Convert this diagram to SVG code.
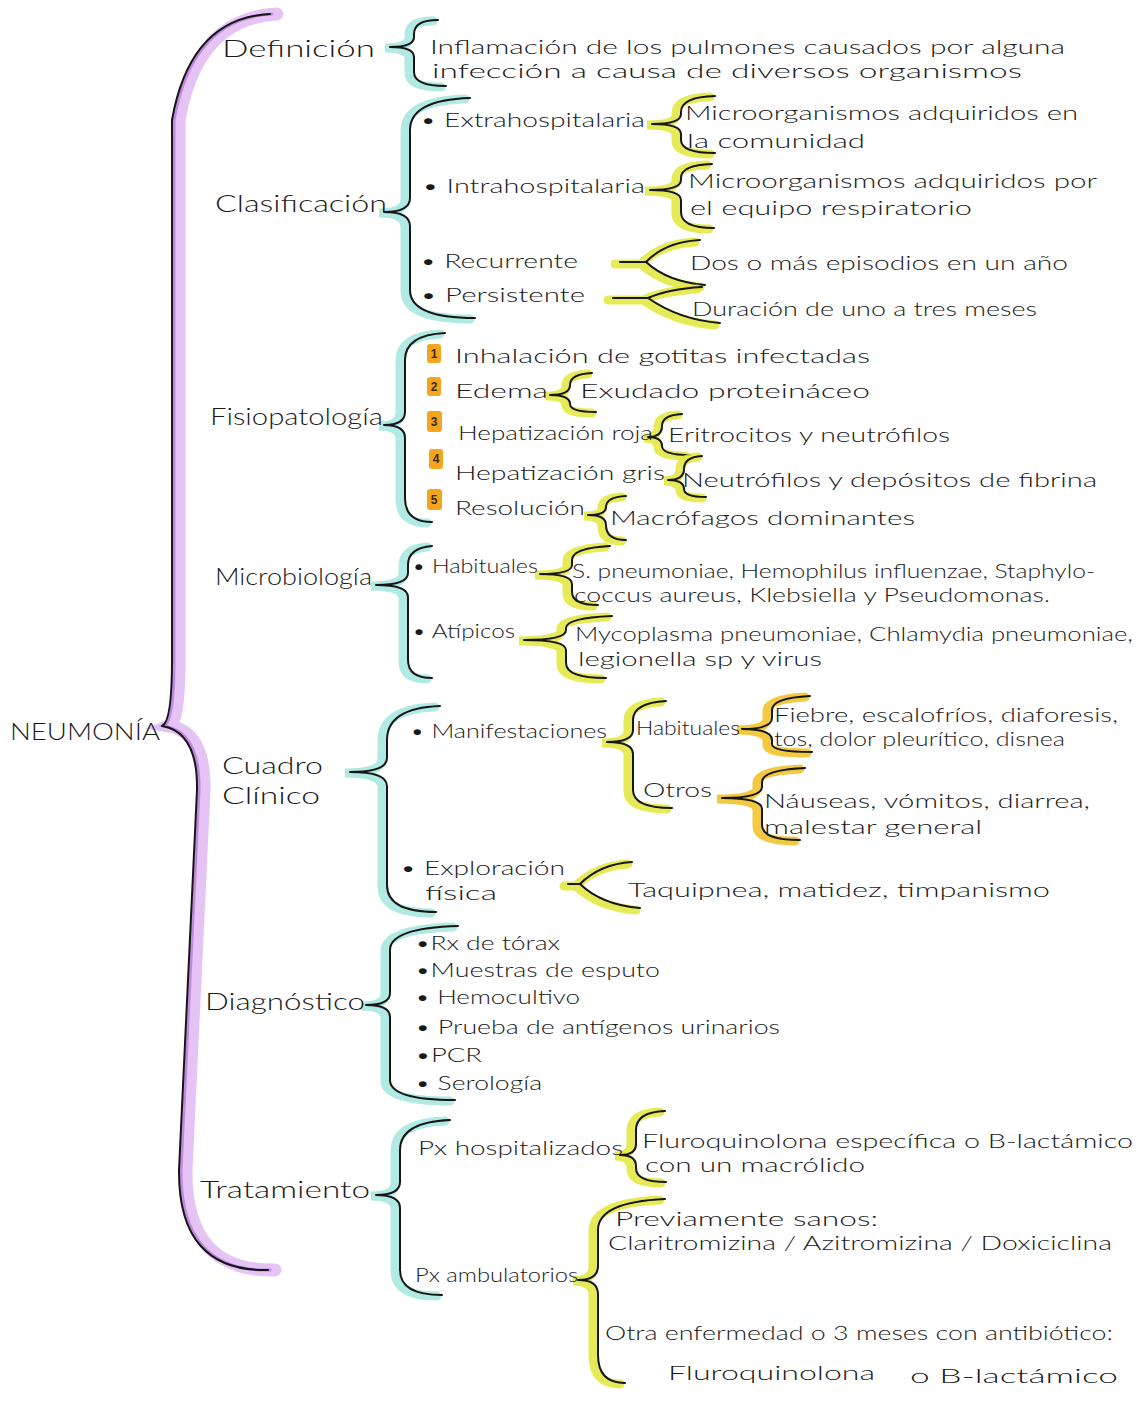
<svg xmlns="http://www.w3.org/2000/svg" xmlns:xlink="http://www.w3.org/1999/xlink" width="1141" height="1401" viewBox="0 0 1141 1401">
<style>
text{font-family:Lato,"Liberation Sans",sans-serif;font-weight:300;fill:#1a1a1a}
.cat{font-size:24px}
.t{font-size:20px}
.s{font-size:19px}
.ink{fill:none;stroke:#161616;stroke-width:2;stroke-linecap:round;stroke-linejoin:round}
.hlT{fill:none;stroke:#9ee3dc;stroke-width:9;stroke-linecap:round;opacity:.8}
.hlY{fill:none;stroke:#e2e63a;stroke-width:9;stroke-linecap:round;opacity:.85}
.hlO{fill:none;stroke:#f0c020;stroke-width:9;stroke-linecap:round;opacity:.85}
.hlP{fill:none;stroke:#e2b8f3;stroke-width:13;stroke-linecap:round;opacity:.85}
.hlP2{fill:none;stroke:#b47ad8;stroke-width:3;stroke-linecap:round;opacity:.8}
.num{fill:#f5a41e}
.nt{font-size:12px;font-weight:700;font-family:"Liberation Sans",sans-serif;fill:#3a2a00}
</style>
<defs>
<path id="bMain" d="M270 14 Q190 18 172 120 L172 660 Q172 722 162 726 Q198 732 197 790 L179 1170 Q178 1272 268 1270"/>
<path id="b1" d="M438 20 Q414 20 414 34 L414 37 Q414 47 390 47 Q414 47 414 57 L414 72 Q414 86 446 86"/>
<path id="b2" d="M470 98 Q410 100 410 130 L410 198 Q410 212 384 212 Q410 212 410 226 L410 290 Q410 318 475 318"/>
<path id="b3" d="M445 333 Q405 335 405 360 L405 412 Q405 425 384 425 Q405 425 405 438 L405 498 Q405 522 432 522"/>
<path id="b4" d="M432 546 Q408 548 408 565 L408 573 Q408 585 376 585 Q408 585 408 597 L408 660 Q408 678 432 678"/>
<path id="b5" d="M440 706 Q387 708 387 740 L387 758 Q387 772 350 772 Q387 772 387 786 L387 885 Q387 912 436 912"/>
<path id="b6" d="M458 926 Q390 928 390 950 L390 993 Q390 1005 366 1005 Q390 1005 390 1017 L390 1080 Q390 1100 455 1100"/>
<path id="b7" d="M450 1120 Q400 1122 400 1150 L400 1182 Q400 1195 376 1195 Q400 1195 400 1208 L400 1270 Q400 1295 442 1295"/>
<path id="y1" d="M715 96 Q681 97 681 112 L681 114 Q681 124 652 124 Q681 124 681 134 L681 140 Q681 153 715 153"/>
<path id="y2" d="M712 164 Q681 165 681 178 L681 180 Q681 190 650 190 Q681 190 681 200 L681 212 Q681 228 714 228"/>
<path id="y3" d="M620 262 L646 262 M700 240 Q665 242 646 262 Q668 282 705 285"/>
<path id="y4" d="M613 298 L648 298 M702 287 Q668 289 648 298 Q680 320 720 323"/>
<path id="y5" d="M592 373 Q570 374 570 385 Q570 395 550 395 Q570 395 570 404 Q570 412 596 412"/>
<path id="y6" d="M682 414 Q662 415 662 426 Q662 437 648 437 Q662 437 662 446 Q662 455 690 455"/>
<path id="y7" d="M702 456 Q684 457 684 469 Q684 480 668 480 Q684 480 684 489 Q684 497 706 497"/>
<path id="y8" d="M626 496 Q606 497 606 507 Q606 515 588 515 Q606 515 606 525 Q606 540 626 540"/>
<path id="y9" d="M610 546 Q572 548 572 560 L572 565 Q572 574 540 574 Q572 574 572 584 L572 592 Q572 605 598 605"/>
<path id="y10" d="M612 616 Q566 618 566 628 L566 630 Q566 640 524 640 Q566 640 566 650 L566 663 Q566 678 606 678"/>
<path id="y11" d="M666 701 Q633 703 633 720 L633 730 Q633 742 607 742 Q633 742 633 754 L633 790 Q633 808 672 808"/>
<path id="y12" d="M810 696 Q772 698 772 710 L772 718 Q772 729 742 729 Q772 729 772 740 L772 744 Q772 752 812 752"/>
<path id="y13" d="M805 768 Q762 770 762 782 L762 787 Q762 798 722 798 Q762 798 762 809 L762 825 Q762 840 800 840"/>
<path id="y14" d="M568 884 L580 884 M632 862 Q600 864 580 884 Q602 905 640 908"/>
<path id="y15" d="M665 1111 Q636 1112 636 1130 L636 1144 Q636 1155 620 1155 Q636 1155 636 1166 L636 1168 Q636 1182 666 1182"/>
<path id="y16" d="M665 1199 Q598 1202 598 1230 L598 1266 Q598 1280 578 1280 Q598 1280 598 1294 L598 1355 Q598 1383 625 1383"/>
</defs>

<g id="connectors">
<use href="#bMain" class="hlP" transform="translate(7,0)"/>
<use href="#bMain" class="hlP2" transform="translate(2,0)"/>
<use href="#bMain" class="ink"/>
<use href="#b1" class="hlT" transform="translate(-5,1)"/><use href="#b1" class="ink"/>
<use href="#b2" class="hlT" transform="translate(-5,1)"/><use href="#b2" class="ink"/>
<use href="#b3" class="hlT" transform="translate(-5,1)"/><use href="#b3" class="ink"/>
<use href="#b4" class="hlT" transform="translate(-5,1)"/><use href="#b4" class="ink"/>
<use href="#b5" class="hlT" transform="translate(-5,1)"/><use href="#b5" class="ink"/>
<use href="#b6" class="hlT" transform="translate(-5,1)"/><use href="#b6" class="ink"/>
<use href="#b7" class="hlT" transform="translate(-5,1)"/><use href="#b7" class="ink"/>
<use href="#y1" class="hlY" transform="translate(-5,1)"/><use href="#y1" class="ink"/>
<use href="#y2" class="hlY" transform="translate(-5,1)"/><use href="#y2" class="ink"/>
<use href="#y3" class="hlY" transform="translate(-5,2)"/><use href="#y3" class="ink"/>
<use href="#y4" class="hlY" transform="translate(-5,2)"/><use href="#y4" class="ink"/>
<use href="#y5" class="hlY" transform="translate(-4,1)"/><use href="#y5" class="ink"/>
<use href="#y6" class="hlY" transform="translate(-4,1)"/><use href="#y6" class="ink"/>
<use href="#y7" class="hlY" transform="translate(-4,1)"/><use href="#y7" class="ink"/>
<use href="#y8" class="hlY" transform="translate(-4,1)"/><use href="#y8" class="ink"/>
<use href="#y9" class="hlY" transform="translate(-5,1)"/><use href="#y9" class="ink"/>
<use href="#y10" class="hlY" transform="translate(-5,1)"/><use href="#y10" class="ink"/>
<use href="#y11" class="hlY" transform="translate(-5,1)"/><use href="#y11" class="ink"/>
<use href="#y12" class="hlO" transform="translate(-5,1)"/><use href="#y12" class="ink"/>
<use href="#y13" class="hlO" transform="translate(-5,1)"/><use href="#y13" class="ink"/>
<use href="#y14" class="hlY" transform="translate(-4,2)"/><use href="#y14" class="ink"/>
<use href="#y15" class="hlY" transform="translate(-5,1)"/><use href="#y15" class="ink"/>
<use href="#y16" class="hlY" transform="translate(-5,1)"/><use href="#y16" class="ink"/>
</g>

<g id="root"><text class="cat" x="10" y="740" textLength="150" lengthAdjust="spacingAndGlyphs">NEUMONÍA</text></g>

<g id="definicion">
<text class="cat" x="222" y="57" textLength="153" lengthAdjust="spacingAndGlyphs">Definición</text>
<text class="s" x="430" y="54" textLength="635" lengthAdjust="spacingAndGlyphs">Inflamación de los pulmones causados por alguna</text>
<text class="s" x="432" y="78" textLength="590" lengthAdjust="spacingAndGlyphs">infección a causa de diversos organismos</text>
</g>

<g id="clasificacion">
<text class="cat" x="215" y="212" textLength="172" lengthAdjust="spacingAndGlyphs">Clasificación</text>
<text class="t" x="420" y="127" textLength="225" lengthAdjust="spacingAndGlyphs">• Extrahospitalaria</text>
<text class="t" x="685" y="120" textLength="393" lengthAdjust="spacingAndGlyphs">Microorganismos adquiridos en</text>
<text class="t" x="687" y="148" textLength="178" lengthAdjust="spacingAndGlyphs">la comunidad</text>
<text class="t" x="422" y="193" textLength="223" lengthAdjust="spacingAndGlyphs">• Intrahospitalaria</text>
<text class="t" x="688" y="188" textLength="409" lengthAdjust="spacingAndGlyphs">Microorganismos adquiridos por</text>
<text class="t" x="690" y="215" textLength="282" lengthAdjust="spacingAndGlyphs">el equipo respiratorio</text>
<text class="t" x="420" y="268" textLength="158" lengthAdjust="spacingAndGlyphs">• Recurrente</text>
<text class="t" x="690" y="270" textLength="378" lengthAdjust="spacingAndGlyphs">Dos o más episodios en un año</text>
<text class="t" x="420" y="302" textLength="165" lengthAdjust="spacingAndGlyphs">• Persistente</text>
<text class="t" x="692" y="316" textLength="345" lengthAdjust="spacingAndGlyphs">Duración de uno a tres meses</text>
</g>

<g id="fisiopatologia">
<text class="cat" x="210" y="425" textLength="173" lengthAdjust="spacingAndGlyphs">Fisiopatología</text>
<rect class="num" x="427" y="344" width="14" height="19" rx="3"/><text class="nt" x="434" y="358" text-anchor="middle">1</text>
<rect class="num" x="427" y="377" width="14" height="19" rx="3"/><text class="nt" x="434" y="391" text-anchor="middle">2</text>
<rect class="num" x="427" y="411" width="15" height="21" rx="3"/><text class="nt" x="434" y="426" text-anchor="middle">3</text>
<rect class="num" x="429" y="449" width="14" height="20" rx="3"/><text class="nt" x="436" y="463" text-anchor="middle">4</text>
<rect class="num" x="427" y="489" width="15" height="21" rx="3"/><text class="nt" x="434" y="504" text-anchor="middle">5</text>
<text class="t" x="455" y="363" textLength="415" lengthAdjust="spacingAndGlyphs">Inhalación de gotitas infectadas</text>
<text class="t" x="455" y="398" textLength="93" lengthAdjust="spacingAndGlyphs">Edema</text>
<text class="t" x="580" y="398" textLength="290" lengthAdjust="spacingAndGlyphs">Exudado proteináceo</text>
<text class="t" x="458" y="440" textLength="195" lengthAdjust="spacingAndGlyphs">Hepatización roja</text>
<text class="t" x="668" y="442" textLength="282" lengthAdjust="spacingAndGlyphs">Eritrocitos y neutrófilos</text>
<text class="t" x="455" y="480" textLength="210" lengthAdjust="spacingAndGlyphs">Hepatización gris</text>
<text class="t" x="682" y="487" textLength="415" lengthAdjust="spacingAndGlyphs">Neutrófilos y depósitos de fibrina</text>
<text class="t" x="455" y="515" textLength="130" lengthAdjust="spacingAndGlyphs">Resolución</text>
<text class="t" x="610" y="525" textLength="305" lengthAdjust="spacingAndGlyphs">Macrófagos dominantes</text>
</g>

<g id="microbiologia">
<text class="cat" x="215" y="585" textLength="157" lengthAdjust="spacingAndGlyphs">Microbiología</text>
<text class="s" x="412" y="573" textLength="126" lengthAdjust="spacingAndGlyphs">• Habituales</text>
<text class="s" x="572" y="578" textLength="523" lengthAdjust="spacingAndGlyphs">S. pneumoniae, Hemophilus influenzae, Staphylo-</text>
<text class="s" x="574" y="602" textLength="476" lengthAdjust="spacingAndGlyphs">coccus aureus, Klebsiella y Pseudomonas.</text>
<text class="s" x="412" y="638" textLength="103" lengthAdjust="spacingAndGlyphs">• Atípicos</text>
<text class="s" x="575" y="641" textLength="558" lengthAdjust="spacingAndGlyphs">Mycoplasma pneumoniae, Chlamydia pneumoniae,</text>
<text class="s" x="578" y="666" textLength="244" lengthAdjust="spacingAndGlyphs">legionella sp y virus</text>
</g>

<g id="cuadro-clinico">
<text class="cat" x="222" y="774" textLength="101" lengthAdjust="spacingAndGlyphs">Cuadro</text>
<text class="cat" x="222" y="804" textLength="98" lengthAdjust="spacingAndGlyphs">Clínico</text>
<text class="t" x="410" y="738" textLength="197" lengthAdjust="spacingAndGlyphs">• Manifestaciones</text>
<text class="s" x="636" y="735" textLength="104" lengthAdjust="spacingAndGlyphs">Habituales</text>
<text class="s" x="774" y="722" textLength="344" lengthAdjust="spacingAndGlyphs">Fiebre, escalofríos, diaforesis,</text>
<text class="s" x="774" y="746" textLength="291" lengthAdjust="spacingAndGlyphs">tos, dolor pleurítico, disnea</text>
<text class="t" x="643" y="797" textLength="69" lengthAdjust="spacingAndGlyphs">Otros</text>
<text class="t" x="764" y="808" textLength="326" lengthAdjust="spacingAndGlyphs">Náuseas, vómitos, diarrea,</text>
<text class="t" x="764" y="834" textLength="218" lengthAdjust="spacingAndGlyphs">malestar general</text>
<text class="t" x="400" y="875" textLength="165" lengthAdjust="spacingAndGlyphs">• Exploración</text>
<text class="t" x="425" y="900" textLength="72" lengthAdjust="spacingAndGlyphs">física</text>
<text class="t" x="628" y="897" textLength="422" lengthAdjust="spacingAndGlyphs">Taquipnea, matidez, timpanismo</text>
</g>

<g id="diagnostico">
<text class="cat" x="205" y="1010" textLength="160" lengthAdjust="spacingAndGlyphs">Diagnóstico</text>
<text class="s" x="415" y="950" textLength="145" lengthAdjust="spacingAndGlyphs">•Rx de tórax</text>
<text class="s" x="415" y="977" textLength="245" lengthAdjust="spacingAndGlyphs">•Muestras de esputo</text>
<text class="s" x="415" y="1004" textLength="165" lengthAdjust="spacingAndGlyphs">• Hemocultivo</text>
<text class="s" x="415" y="1034" textLength="365" lengthAdjust="spacingAndGlyphs">• Prueba de antígenos urinarios</text>
<text class="s" x="415" y="1062" textLength="67" lengthAdjust="spacingAndGlyphs">•PCR</text>
<text class="s" x="415" y="1090" textLength="127" lengthAdjust="spacingAndGlyphs">• Serología</text>
</g>

<g id="tratamiento">
<text class="cat" x="200" y="1198" textLength="170" lengthAdjust="spacingAndGlyphs">Tratamiento</text>
<text class="t" x="418" y="1155" textLength="205" lengthAdjust="spacingAndGlyphs">Px hospitalizados</text>
<text class="s" x="642" y="1148" textLength="491" lengthAdjust="spacingAndGlyphs">Fluroquinolona específica o B-lactámico</text>
<text class="s" x="645" y="1172" textLength="220" lengthAdjust="spacingAndGlyphs">con un macrólido</text>
<text class="t" x="415" y="1282" textLength="163" lengthAdjust="spacingAndGlyphs">Px ambulatorios</text>
<text class="s" x="615" y="1226" textLength="263" lengthAdjust="spacingAndGlyphs">Previamente sanos:</text>
<text class="s" x="608" y="1250" textLength="504" lengthAdjust="spacingAndGlyphs">Claritromizina / Azitromizina / Doxiciclina</text>
<text class="s" x="605" y="1340" textLength="508" lengthAdjust="spacingAndGlyphs">Otra enfermedad o 3 meses con antibiótico:</text>
<text class="t" x="668" y="1380" textLength="207" lengthAdjust="spacingAndGlyphs">Fluroquinolona</text>
<text class="t" x="910" y="1383" textLength="208" lengthAdjust="spacingAndGlyphs">o B-lactámico</text>
</g>
</svg>
